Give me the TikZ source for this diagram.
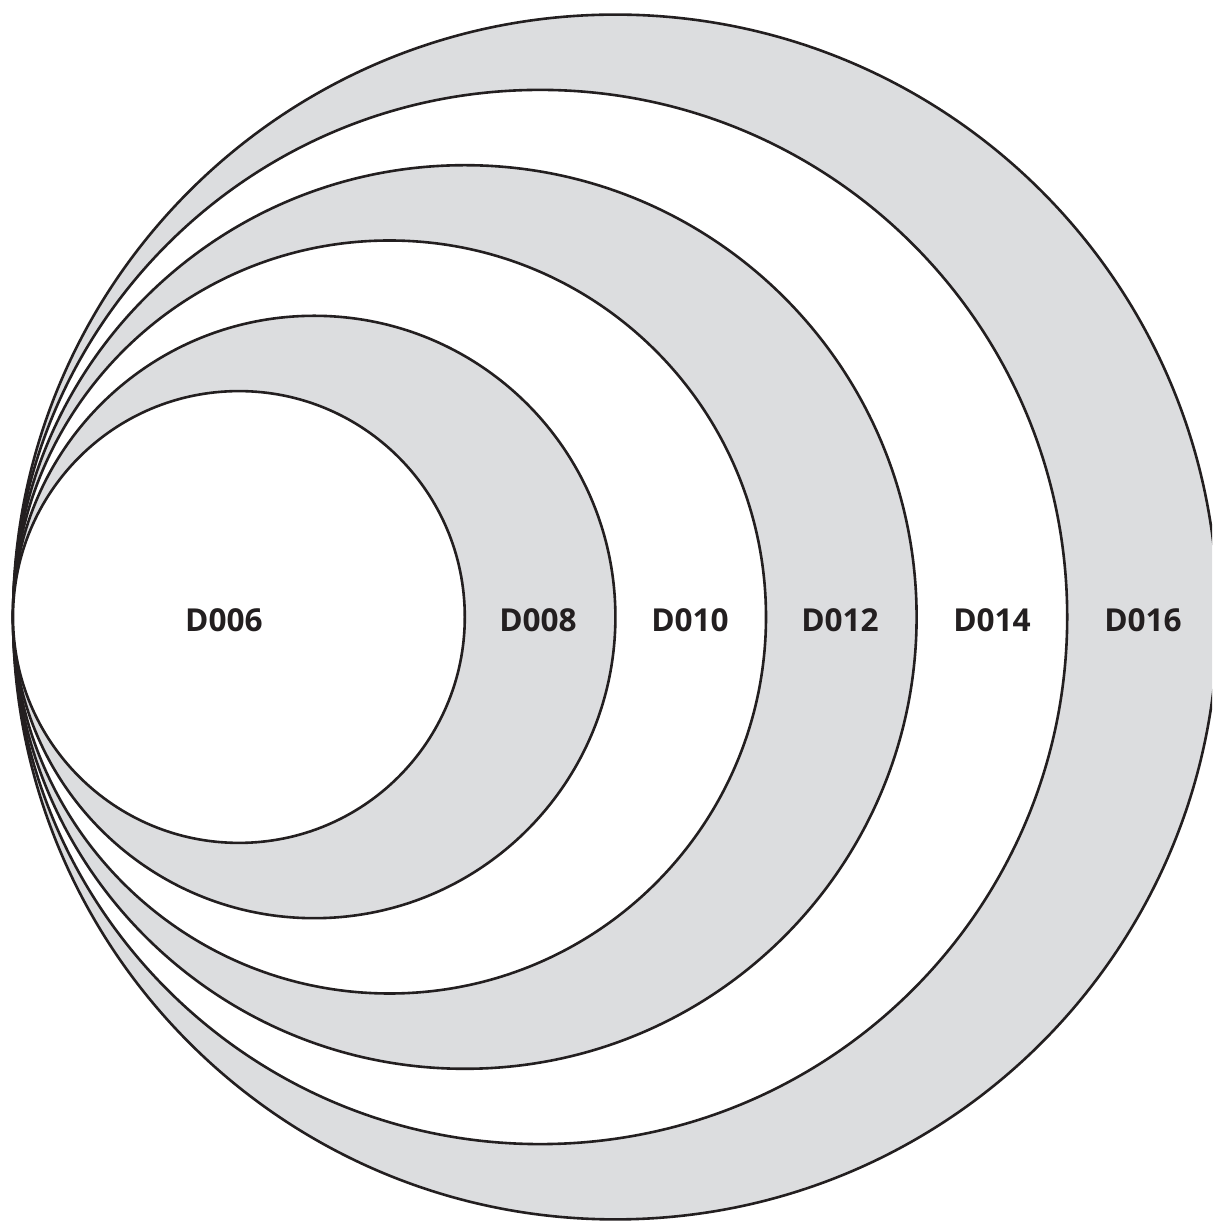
\documentclass[tikz,border=0pt]{standalone}
\usepackage{fontspec}
\setmainfont{Open Sans}
\usetikzlibrary{calc}
\definecolor{Ink}{HTML}{231F20}
\definecolor{Band}{HTML}{DCDDDF}

\begin{document}
\begin{tikzpicture}[
  x=0.5pt,y=0.5pt,
  ring/.style={draw=Ink,line width=1.3pt},
  tag/.style={font=\fontsize{15.8}{18}\selectfont\bfseries,text=Ink}
]
\clip (0,0) rectangle (1212,1221);
\coordinate (touch) at (13,604);
% rings, largest first, all touching at the left
\foreach \k/\col in {8/Band,7/white,6/Band,5/white,4/Band,3/white}
  \draw[ring,fill=\col] ($(touch)+(75.3*\k,0)$) circle (75.3*\k);
\node[tag] (d006) at (224,601) {D006};
\node[tag] (d008) at (538,601) {D008};
\node[tag] (d010) at (690,601) {D010};
\node[tag] (d012) at (840,601) {D012};
\node[tag] (d014) at (992,601) {D014};
\node[tag] (d016) at (1143,601) {D016};
\end{tikzpicture}
\end{document}
